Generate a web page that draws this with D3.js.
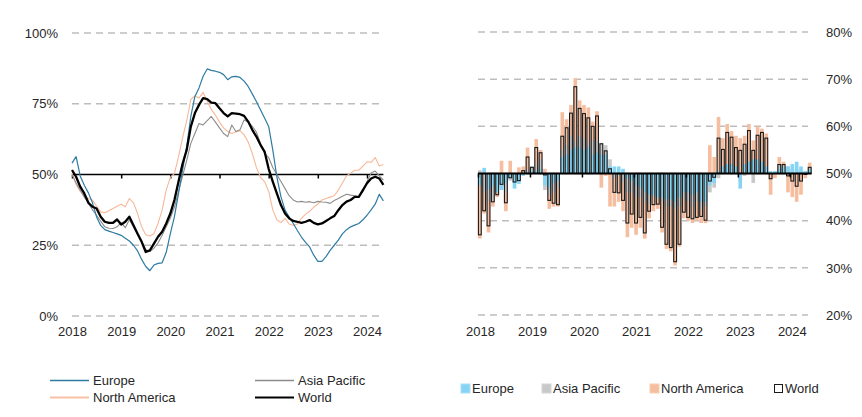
<!DOCTYPE html>
<html>
<head>
<meta charset="utf-8">
<script src="https://cdn.jsdelivr.net/npm/d3@7"></script>
<style>
  body { margin: 0; background: #fff; }
  svg { display: block; font-family: "Liberation Sans", Arial, sans-serif; }
</style>
</head>
<body>
<svg id="chart" width="862" height="417"></svg>
<script>
// monthly data, Jan 2018 .. May 2024
const START_YEAR = 2018;
const years = [2018, 2019, 2020, 2021, 2022, 2023, 2024];
const leftTicks = [0, 25, 50, 75, 100];
const rightTicks = [20, 30, 40, 50, 60, 70, 80];

// left panel: lines (%)
const lineEurope = [54.0, 56.3, 49.5, 46.2, 43.5, 40.0, 35.0, 32.0, 30.5, 30.0, 29.5, 29.0, 28.5, 27.5, 26.5, 25.0,
  23.0, 20.0, 17.5, 16.0, 18.0, 18.6, 18.8, 22.5, 29.1, 35.1, 43.3, 51.6, 59.9, 70.5, 77.6, 80.6,
  84.7, 87.3, 86.8, 86.5, 86.1, 85.3, 83.5, 84.5, 84.7, 84.3, 83.0, 81.1, 78.5, 75.8, 72.9, 70.0,
  67.0, 58.7, 49.2, 42.1, 37.4, 35.0, 32.7, 30.2, 27.9, 26.0, 24.4, 21.5, 19.3, 19.3, 21.0, 23.2,
  25.0, 26.8, 29.0, 30.5, 31.5, 32.1, 32.7, 34.0, 35.6, 37.5, 39.5, 43.0, 40.7];
const lineAsiaPacific = [50.0, 47.0, 44.5, 42.0, 40.0, 37.5, 35.6, 33.5, 31.5, 31.0, 30.9, 31.5, 33.0, 31.2, 34.0, 31.5,
  29.0, 26.5, 23.5, 22.8, 24.0, 25.8, 28.5, 31.5, 34.5, 38.5, 44.0, 49.5, 55.0, 61.0, 64.5, 68.0,
  67.5, 69.0, 70.5, 68.5, 66.5, 64.5, 63.4, 67.5, 65.2, 65.8, 69.3, 68.5, 67.0, 65.0, 61.0, 57.5,
  56.0, 52.5, 50.0, 47.5, 45.0, 42.5, 41.0, 40.3, 40.5, 40.2, 40.4, 40.0, 40.5, 40.3, 40.2, 39.8,
  40.8, 41.5, 42.3, 43.0, 42.7, 42.5, 42.0, 44.0, 47.5, 50.5, 51.2, 49.5, 48.0];
const lineNorthAmerica = [50.5, 46.5, 44.0, 42.5, 41.5, 41.0, 38.8, 36.8, 36.5, 37.2, 38.0, 38.8, 39.5, 38.6, 41.5, 40.0,
  36.2, 31.5, 28.7, 28.3, 29.1, 32.7, 37.4, 44.5, 49.0, 50.4, 56.3, 63.0, 69.0, 76.5, 77.8, 77.0,
  79.0, 76.0, 73.0, 71.0, 68.5, 66.5, 65.2, 64.5, 65.0, 65.5, 64.0, 61.5, 57.5, 52.5, 49.0, 47.5,
  44.0, 37.5, 34.0, 33.0, 34.5, 32.5, 32.0, 32.5, 34.5, 36.0, 37.0, 38.5, 39.5, 41.0, 41.5, 42.0,
  42.5, 44.5, 47.0, 49.5, 50.5, 51.5, 51.5, 53.0, 54.5, 54.3, 56.0, 53.0, 53.5];
const lineWorld = [51.6, 49.2, 45.7, 43.3, 40.0, 38.6, 38.0, 35.1, 33.3, 32.9, 32.9, 34.1, 32.3, 33.3, 35.1, 32.1,
  29.1, 26.2, 22.6, 23.2, 25.6, 28.0, 29.8, 32.7, 36.2, 41.0, 47.5, 53.9, 58.7, 66.9, 71.7, 74.6,
  77.0, 76.6, 75.4, 75.2, 73.4, 71.7, 70.5, 71.7, 71.5, 71.3, 70.7, 68.7, 65.8, 63.4, 60.5, 58.1,
  52.0, 47.5, 43.3, 39.2, 36.2, 34.5, 33.6, 33.3, 32.9, 33.3, 33.9, 32.9, 32.4, 32.7, 33.6, 34.5,
  35.3, 37.4, 39.2, 40.4, 41.0, 42.1, 42.1, 44.5, 46.9, 48.6, 49.2, 48.6, 46.3];

// right panel: bars (%), drawn from 50%
const barEurope = [47.5, 51.2, 46.7, 47.5, 46.0, 46.5, 48.0, 49.0, 46.8, 47.8, 49.5, 50.3, 50.5, 50.5, 51.0, 47.5,
  47.0, 48.0, 48.5, 53.5, 54.0, 55.0, 55.5, 55.5, 55.0, 55.5, 54.0, 54.5, 54.0, 54.0, 51.5, 51.5,
  51.5, 51.0, 49.0, 48.5, 47.5, 47.0, 46.0, 45.5, 45.5, 45.0, 45.0, 44.5, 44.5, 44.0, 45.0, 46.0,
  46.0, 45.5, 46.0, 44.0, 44.0, 47.5, 48.0, 50.5, 51.5, 52.0, 52.0, 51.5, 46.8, 52.0, 52.5, 53.0,
  53.0, 52.5, 51.5, 50.5, 50.5, 51.0, 51.5, 51.5, 52.0, 52.5, 51.5, 50.5, 51.0];
const barAsiaPacific = [50.7, 46.0, 44.0, 44.5, 46.5, 47.0, 46.0, 48.5, 48.0, 49.0, 50.3, 51.0, 51.5, 52.0, 53.0, 46.5,
  45.5, 46.0, 47.0, 55.0, 56.0, 58.0, 57.0, 58.0, 57.5, 56.5, 57.0, 57.0, 56.5, 56.0, 53.0, 49.0,
  49.5, 48.0, 46.0, 46.0, 45.0, 45.0, 44.0, 43.5, 45.0, 44.5, 44.0, 43.0, 43.0, 42.5, 43.0, 44.5,
  44.0, 43.0, 44.0, 42.5, 43.0, 46.0, 47.0, 49.0, 50.0, 51.0, 50.5, 50.0, 48.5, 49.5, 50.5, 48.0,
  52.0, 51.5, 50.0, 50.0, 50.5, 52.0, 51.0, 51.5, 51.0, 51.0, 50.5, 50.5, 51.0];
const barNorthAmerica = [36.2, 41.5, 37.5, 43.0, 45.0, 52.7, 42.0, 52.7, 49.0, 51.3, 51.5, 55.5, 51.5, 57.3, 55.0, 51.0,
  42.5, 43.0, 43.0, 63.0, 61.5, 64.5, 70.2, 65.5, 64.5, 64.0, 61.0, 63.2, 47.0, 49.5, 43.0, 43.0,
  44.0, 42.0, 36.5, 38.5, 37.0, 38.5, 36.2, 40.5, 42.0, 42.5, 37.5, 34.0, 33.5, 30.5, 34.5, 40.5,
  40.0, 39.5, 40.0, 39.5, 39.5, 56.0, 53.5, 62.0, 57.5, 60.5, 59.0, 58.0, 57.5, 58.0, 60.5, 57.0,
  60.0, 59.5, 58.5, 45.5, 49.0, 53.5, 52.5, 46.0, 45.0, 44.0, 45.5, 49.0, 52.3];
const barWorld = [37.0, 42.1, 38.9, 44.0, 45.5, 47.7, 43.8, 49.1, 48.2, 48.5, 50.6, 53.5, 51.3, 55.5, 54.4, 49.7,
  44.3, 43.7, 43.4, 57.9, 59.7, 62.8, 68.4, 63.8, 62.7, 61.8, 60.0, 62.2, 56.3, 54.8, 51.0, 46.0,
  45.9, 44.3, 39.5, 41.4, 39.5, 40.7, 37.4, 42.0, 43.4, 43.5, 38.6, 35.0, 34.3, 31.3, 35.0, 41.8,
  40.7, 40.4, 40.7, 40.9, 40.1, 48.4, 49.2, 57.5, 55.1, 58.7, 57.7, 55.5, 54.9, 56.2, 59.1, 54.9,
  58.1, 58.7, 57.5, 48.9, 50.0, 51.9, 51.9, 49.5, 48.4, 47.3, 48.4, 49.8, 51.3];

const N = lineWorld.length;
const TEXT = "#262626";
const GRID = "#bdbdbd";

const svg = d3.select("#chart");

// ---------- left panel ----------
const xL = d3.scaleLinear().domain([START_YEAR, 2024]).range([72, 367]);
const yL = d3.scaleLinear().domain([0, 100]).range([316, 33]);
const xEndL = xL(START_YEAR + (N - 1) / 12);

const left = svg.append("g");

left.append("g")
  .selectAll("line")
  .data(leftTicks.filter(d => d !== 50))
  .join("line")
  .attr("x1", xL(START_YEAR)).attr("x2", xEndL)
  .attr("y1", d => yL(d)).attr("y2", d => yL(d))
  .attr("stroke", GRID).attr("stroke-width", 1.5).attr("stroke-dasharray", "7,5");

left.append("g")
  .attr("transform", `translate(58,0)`)
  .call(d3.axisLeft(yL).tickValues(leftTicks).tickSize(0).tickPadding(0).tickFormat(d => d + "%"))
  .call(g => g.select(".domain").remove())
  .call(g => g.selectAll("text").attr("font-size", 13).attr("fill", TEXT).attr("font-family", null));

// axis line at 50%
left.append("line")
  .attr("x1", xL(START_YEAR)).attr("x2", xEndL)
  .attr("y1", yL(50)).attr("y2", yL(50))
  .attr("stroke", "#000").attr("stroke-width", 1.6);

left.append("g")
  .attr("transform", `translate(0,${yL(50)})`)
  .call(d3.axisBottom(xL).tickValues(years).tickSize(4).tickFormat(""))
  .call(g => g.select(".domain").remove())
  .call(g => g.selectAll("line").attr("stroke", "#000").attr("stroke-width", 1.5));

left.append("g")
  .attr("transform", `translate(0,327)`)
  .call(d3.axisBottom(xL).tickValues(years).tickSize(0).tickPadding(0).tickFormat(d3.format("d")))
  .call(g => g.select(".domain").remove())
  .call(g => g.selectAll("text").attr("font-size", 13).attr("fill", TEXT).attr("font-family", null));

const line = d3.line()
  .x((d, i) => xL(START_YEAR + i / 12))
  .y(d => yL(d));

const lineSeries = [
  { name: "North America", values: lineNorthAmerica, color: "#f7b899", width: 1.1 },
  { name: "Asia Pacific", values: lineAsiaPacific, color: "#8c8c8c", width: 1.1 },
  { name: "Europe", values: lineEurope, color: "#2f7ba2", width: 1.2 },
  { name: "World", values: lineWorld, color: "#000", width: 2.3 }
];

left.append("g")
  .selectAll("path")
  .data(lineSeries)
  .join("path")
  .attr("d", d => line(d.values))
  .attr("fill", "none")
  .attr("stroke", d => d.color)
  .attr("stroke-width", d => d.width)
  .attr("stroke-linejoin", "round");

// left legend
const legL = [
  { name: "Europe", x: 50, y: 380.5, color: "#2f7ba2", width: 1.3 },
  { name: "Asia Pacific", x: 255, y: 380.5, color: "#8c8c8c", width: 1.3 },
  { name: "North America", x: 50, y: 397.5, color: "#f7c2a6", width: 1.8 },
  { name: "World", x: 255, y: 397.5, color: "#000", width: 2.2 }
];
const legLg = left.append("g").selectAll("g").data(legL).join("g")
  .attr("transform", d => `translate(${d.x},${d.y})`);
legLg.append("line")
  .attr("x1", 0).attr("x2", 39)
  .attr("stroke", d => d.color)
  .attr("stroke-width", d => d.width);
legLg.append("text")
  .attr("x", 43).attr("dy", "0.35em")
  .attr("font-size", 13).attr("fill", TEXT)
  .text(d => d.name);

// ---------- right panel ----------
const xR = d3.scaleBand().domain(d3.range(N)).range([478, 811.5]).paddingInner(0.16).paddingOuter(0);
const xRt = d3.scaleLinear().domain([START_YEAR, START_YEAR + N / 12]).range([478, 811.5]);
const yR = d3.scaleLinear().domain([20, 80]).range([315, 32]);

const right = svg.append("g");

right.append("g")
  .selectAll("line")
  .data(rightTicks)
  .join("line")
  .attr("x1", 478).attr("x2", 808)
  .attr("y1", d => yR(d)).attr("y2", d => yR(d))
  .attr("stroke", GRID).attr("stroke-width", 1.5).attr("stroke-dasharray", "7,5");

right.append("g")
  .attr("transform", `translate(826,0)`)
  .call(d3.axisRight(yR).tickValues(rightTicks).tickSize(0).tickPadding(0).tickFormat(d => d + "%"))
  .call(g => g.select(".domain").remove())
  .call(g => g.selectAll("text").attr("font-size", 13).attr("fill", TEXT).attr("font-family", null));

const barSeries = [
  { name: "North America", values: barNorthAmerica, color: "#f6bea0" },
  { name: "Asia Pacific", values: barAsiaPacific, color: "#c8c8c8" },
  { name: "Europe", values: barEurope, color: "#86d4f3" }
];

right.append("g")
  .selectAll("g")
  .data(barSeries)
  .join("g")
  .attr("fill", d => d.color)
  .selectAll("rect")
  .data(d => d.values)
  .join("rect")
  .attr("x", (d, i) => xR(i))
  .attr("width", xR.bandwidth())
  .attr("y", d => yR(Math.max(d, 50)))
  .attr("height", d => Math.abs(yR(d) - yR(50)));

right.append("g")
  .selectAll("rect")
  .data(barWorld)
  .join("rect")
  .attr("x", (d, i) => xR(i) + 0.4)
  .attr("width", xR.bandwidth() - 0.8)
  .attr("y", d => yR(Math.max(d, 50)))
  .attr("height", d => Math.abs(yR(d) - yR(50)))
  .attr("fill", "none")
  .attr("stroke", "#1a1a1a")
  .attr("stroke-width", 1.1);

right.append("line")
  .attr("x1", 478).attr("x2", 811.5)
  .attr("y1", yR(50)).attr("y2", yR(50))
  .attr("stroke", "#000").attr("stroke-width", 1.8);

right.append("g")
  .attr("transform", `translate(0,${yR(50)})`)
  .call(d3.axisBottom(xRt).tickValues(years).tickSize(4).tickFormat(""))
  .call(g => g.select(".domain").remove())
  .call(g => g.selectAll("line").attr("stroke", "#000").attr("stroke-width", 1.5));

right.append("g")
  .attr("transform", `translate(2,327)`)
  .call(d3.axisBottom(xRt).tickValues(years).tickSize(0).tickPadding(0).tickFormat(d3.format("d")))
  .call(g => g.select(".domain").remove())
  .call(g => g.selectAll("text").attr("font-size", 13).attr("fill", TEXT).attr("font-family", null));

// right legend
const legR = [
  { name: "Europe", x: 461, fill: "#86d4f3", stroke: "#a9e0f6" },
  { name: "Asia Pacific", x: 542, fill: "#c8c8c8", stroke: "#d6d6d6" },
  { name: "North America", x: 650, fill: "#f6bea0", stroke: "#f8cdb5" },
  { name: "World", x: 774, fill: "none", stroke: "#1a1a1a" }
];
const legRg = right.append("g").selectAll("g").data(legR).join("g")
  .attr("transform", d => `translate(${d.x},388.5)`);
legRg.append("rect")
  .attr("x", d => d.name === "World" ? 0.5 : 0)
  .attr("y", d => d.name === "World" ? -4 : -4.5)
  .attr("width", d => d.name === "World" ? 8 : 9)
  .attr("height", d => d.name === "World" ? 8 : 9)
  .attr("fill", d => d.fill)
  .attr("stroke", d => d.stroke)
  .attr("stroke-width", 1);
legRg.append("text")
  .attr("x", 11)
  .attr("dy", "0.35em")
  .attr("font-size", 13).attr("fill", TEXT)
  .text(d => d.name);
</script>
</body>
</html>
